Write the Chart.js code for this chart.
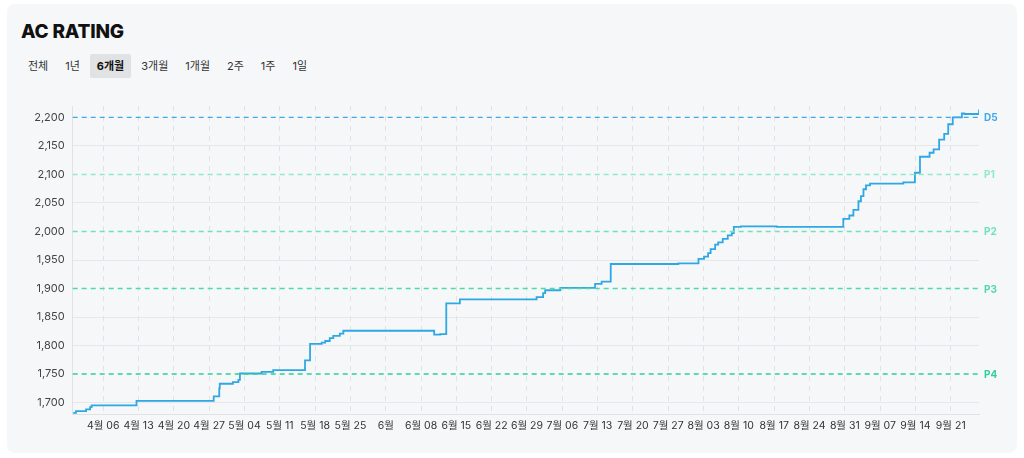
<!DOCTYPE html>
<html lang="ko">
<head>
<meta charset="utf-8">
<title>AC RATING</title>
<script src="https://cdn.jsdelivr.net/npm/chart.js@4.4.1/dist/chart.umd.min.js"></script>
<style>
  html, body { margin: 0; padding: 0; background: #fff; }
  body { width: 1024px; height: 458px; position: relative; overflow: hidden;
         font-family: "Inter", "Noto Sans CJK KR", sans-serif; }
  .card { position: absolute; left: 7px; top: 4px; width: 1010px; height: 449px;
          background: #f6f7f9; border-radius: 8px; }
  h1 { position: absolute; left: 21px; top: 20px; margin: 0; font-size: 19px;
       font-weight: 800; color: #111; letter-spacing: -0.2px; }
  .tabs { position: absolute; left: 21px; top: 54px; display: flex; }
  .tabs span { font-size: 11px; color: #333; padding: 0 7px; height: 24px; line-height: 24px;
               margin-right: 3px; border-radius: 2px; }
  .tabs span.on { background: #e1e2e4; font-weight: 700; color: #111; }
  #wrap { position: absolute; left: 20px; top: 90px; width: 990px; height: 352px; }
</style>
</head>
<body>
<div class="card"></div>
<h1>AC RATING</h1>
<div class="tabs">
  <span>전체</span><span>1년</span><span class="on">6개월</span><span>3개월</span>
  <span>1개월</span><span>2주</span><span>1주</span><span>1일</span>
</div>
<div id="wrap"><canvas id="chart"></canvas></div>
<script>
// x = days since 2025-04-06 (first weekly tick), y = rating
const days = [-5.95, -5.4, -3.4, -2.6, -2.3, 6.6, 21.9, 23.0, 23.1, 25.7, 26.8, 27.1,
  31.4, 33.7, 40.0, 41.0, 43.3, 44.0, 44.9, 45.6, 46.9, 47.6, 65.6, 66.8, 68.0, 70.7,
  85.9, 87.2, 87.6, 90.6, 97.5, 98.8, 100.6, 114.0, 118.0, 119.1, 119.9, 120.4, 121.3,
  121.9, 122.8, 123.8, 124.6, 125.0, 126.4, 133.5, 146.7, 147.9, 148.7, 149.7, 150.2,
  150.7, 151.2, 152.0, 158.6, 160.9, 161.9, 163.8, 164.6, 165.7, 166.7, 167.5, 168.4,
  170.2, 170.7, 173.6];
const rating = [1682, 1685, 1688, 1692, 1695, 1703, 1711, 1725, 1733, 1736, 1740, 1751,
  1754, 1757, 1774, 1803, 1805, 1808, 1813, 1817, 1821, 1826, 1819, 1820, 1874, 1881,
  1885, 1892, 1897, 1901, 1908, 1912, 1943, 1944, 1952, 1956, 1962, 1969, 1977,
  1981, 1987, 1993, 1997, 2008, 2009, 2008, 2022, 2028, 2038, 2053, 2062,
  2074, 2081, 2084, 2086, 2103, 2131, 2138, 2144, 2161, 2171, 2188, 2200,
  2207, 2206, 2214];

const tierNames = ["D5", "P1", "P2", "P3", "P4"];
const tierValues = [2200, 2100, 2000, 1900, 1750];
const tierColors = ["#3ea9e8", "#8feac6", "#6fe2b7", "#4cdba7", "#2ed097"];

const yTicks = [1700, 1750, 1800, 1850, 1900, 1950, 2000, 2050, 2100, 2150, 2200];
const xTicks = [0, 7, 14, 21, 28, 35, 42, 49, 56, 63, 70, 77, 84, 91, 98, 105, 112,
  119, 126, 133, 140, 147, 154, 161, 168];
const baseDate = new Date(2025, 3, 6);

function dateLabel(v) {
  const d = new Date(baseDate.getTime() + v * 86400000);
  const m = d.getMonth() + 1;
  if (d.getDate() === 1) return m + "월";
  return m + "월 " + String(d.getDate()).padStart(2, "0");
}

const tierPlugin = {
  id: "tiers",
  afterDatasetsDraw(chart) {
    const { ctx, chartArea, scales } = chart;
    ctx.save();
    tierValues.forEach((v, i) => {
      const y = scales.y.getPixelForValue(v);
      ctx.strokeStyle = tierColors[i];
      ctx.lineWidth = 1.4;
      ctx.setLineDash([5, 4]);
      ctx.beginPath();
      ctx.moveTo(chartArea.left, y);
      ctx.lineTo(chartArea.right, y);
      ctx.stroke();
      ctx.setLineDash([]);
      ctx.fillStyle = tierColors[i];
      ctx.font = "bold 10px Inter, 'Noto Sans CJK KR', sans-serif";
      ctx.textBaseline = "middle";
      ctx.fillText(tierNames[i], chartArea.right + 5, y + 1);
    });
    ctx.restore();
  },
};

const ctx = document.getElementById("chart").getContext("2d");
new Chart(ctx, {
  type: "line",
  data: {
    datasets: [{
      data: days.map((d, i) => ({ x: d, y: rating[i] })),
      borderColor: "#2ea8e3",
      borderWidth: 1.8,
      stepped: true,
      pointRadius: 0,
      fill: false,
    }],
  },
  options: {
    responsive: true,
    maintainAspectRatio: false,
    animation: false,
    layout: { padding: { top: 16, right: 31, left: 0, bottom: 0 } },
    plugins: { legend: { display: false }, tooltip: { enabled: false } },
    scales: {
      x: {
        type: "linear",
        min: -6.05,
        max: 173.6,
        afterBuildTicks: (s) => { s.ticks = xTicks.map((v) => ({ value: v })); },
        afterFit: (s) => { s.height = 28; },
        ticks: {
          color: "#333",
          font: { size: 10.5, family: "Inter, 'Noto Sans CJK KR', sans-serif" },
          maxRotation: 0,
          autoSkip: false,
          padding: 6,
          callback: (v) => dateLabel(v),
        },
        grid: { color: "#e1e2e5", drawTicks: false },
        border: { color: "#e1e2e5", dash: [5, 5] },
      },
      y: {
        min: 1680,
        max: 2220,
        afterBuildTicks: (s) => { s.ticks = yTicks.map((v) => ({ value: v })); },
        afterFit: (s) => { s.width = 52.7; },
        ticks: {
          color: "#444",
          font: { size: 11, family: "Inter, 'Noto Sans CJK KR', sans-serif" },
          padding: 8,
          callback: (v) => v.toLocaleString("en-US"),
        },
        grid: {
          drawTicks: false,
          color: (c) => (c.tick && tierValues.includes(c.tick.value) ? "rgba(0,0,0,0)" : "#e6e7ea"),
        },
        border: { color: "#e1e2e5" },
      },
    },
  },
  plugins: [tierPlugin],
});
</script>
</body>
</html>
